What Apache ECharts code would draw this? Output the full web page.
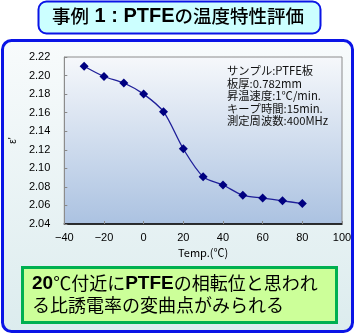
<!DOCTYPE html>
<html>
<head>
<meta charset="utf-8">
<script src="https://cdn.jsdelivr.net/npm/echarts@6/dist/echarts.min.js"></script>
<style>
html,body{margin:0;padding:0;background:#fff;}
#c{width:355px;height:334px;}
</style>
</head>
<body>
<div id="c"></div>
<script>
// Measured permittivity of a PTFE sheet against temperature
const temps = [-30, -20, -10, 0, 10, 20, 30, 40, 50, 60, 70, 80];
const epsilon = [2.210, 2.199, 2.192, 2.180, 2.161, 2.121, 2.091, 2.082, 2.071, 2.068, 2.065, 2.062];
const xTicks = [-40, 100, 20];          // min, max, step
const yTicks = [2.04, 2.22, 0.02];      // min, max, step
const conditions = [
  'サンプル:PTFE板',
  '板厚:0.782mm',
  '昇温速度:1℃/min.',
  'キープ時間:15min.',
  '測定周波数:400MHz'
];

const chart = echarts.init(document.getElementById('c'));
const JP = '"Noto Sans CJK JP", "Noto Sans", sans-serif';
const LAT = '"Liberation Sans", Arial, sans-serif';

chart.setOption({
  animation: false,
  graphic: [
    // outer panel
    { type: 'rect', z: -10, shape: { x: 2.5, y: 40.5, width: 350, height: 291, r: 9 },
      style: { fill: new echarts.graphic.LinearGradient(0, 0, 0, 1, [
        { offset: 0, color: '#f8fbfc' }, { offset: 1, color: '#dcecee' }]),
        stroke: '#0a14e6', lineWidth: 3 } },
    // title box
    { type: 'rect', z: 10, shape: { x: 38.5, y: 1.5, width: 282, height: 32, r: 8 },
      style: { fill: '#ccffff', stroke: '#0a14e6', lineWidth: 2 } },
    { type: 'text', z: 11, left: 52, top: 6,
      style: {
        text: '{j|事例}{b| 1 : PTFE}{j|の温度特性評価}',
        rich: {
          j: { font: '500 18.5px ' + JP, fill: '#000' },
          b: { font: 'bold 20px ' + LAT, fill: '#000' }
        }
      } },
    // measurement conditions
    { type: 'text', z: 11, left: 227, top: 65,
      style: { text: conditions.join('\n'), font: '11.3px ' + JP, lineHeight: 12.4, fill: '#111' } },
    // conclusion box
    { type: 'rect', z: 10, shape: { x: 22.5, y: 267.5, width: 314, height: 55 },
      style: { fill: '#ccff99', stroke: '#00b050', lineWidth: 3 } },
    { type: 'text', z: 11, left: 32, top: 274,
      style: {
        text: '{b|20}{n|℃付近に}{b|PTFE}{n|の相転位と思われ}\n{n|る比誘電率の変曲点がみられる}',
        rich: {
          b: { font: 'bold 19px ' + LAT, fill: '#000', lineHeight: 22 },
          n: { font: '18px ' + JP, fill: '#000', lineHeight: 22 }
        }
      } }
  ],
  grid: {
    left: 57, top: 57, width: 285, height: 167,
    show: true, borderColor: '#8c8c8c', borderWidth: 1,
    backgroundColor: new echarts.graphic.LinearGradient(0, 0, 0, 1, [
      { offset: 0, color: '#f6f8fb' }, { offset: 1, color: '#abc2e1' }])
  },
  xAxis: {
    type: 'value', min: xTicks[0], max: xTicks[1], interval: xTicks[2],
    name: 'Temp.(℃)', nameLocation: 'middle', nameGap: 23,
    nameTextStyle: { fontFamily: JP, fontSize: 11, color: '#000' },
    axisLine: { onZero: false, lineStyle: { color: '#000', width: 1.5 } },
    axisTick: { inside: true, length: 3, lineStyle: { color: '#888' } },
    axisLabel: { fontFamily: LAT, fontSize: 11, color: '#000', margin: 8,
      formatter: v => (v < 0 ? '\u2212' + Math.abs(v) : String(v)) },
    splitLine: { show: false }
  },
  yAxis: {
    type: 'value', min: yTicks[0], max: yTicks[1], interval: yTicks[2],
    name: "ε'", nameLocation: 'middle', nameGap: 44,
    nameTextStyle: { fontFamily: LAT, fontSize: 10, color: '#000' },
    axisLine: { show: true, onZero: false, lineStyle: { color: '#8c8c8c', width: 1 } },
    axisTick: { inside: true, length: 3, lineStyle: { color: '#888' } },
    axisLabel: { fontFamily: LAT, fontSize: 11, color: '#000', margin: 14,
      formatter: v => v.toFixed(2) },
    splitLine: { show: false }
  },
  series: [{
    type: 'line',
    data: temps.map((t, i) => [t, epsilon[i]]),
    smooth: 0.3,
    symbol: 'diamond', symbolSize: 9,
    lineStyle: { color: '#1f1f99', width: 1.3 },
    itemStyle: { color: '#000080' }
  }]
});
</script>
</body>
</html>
